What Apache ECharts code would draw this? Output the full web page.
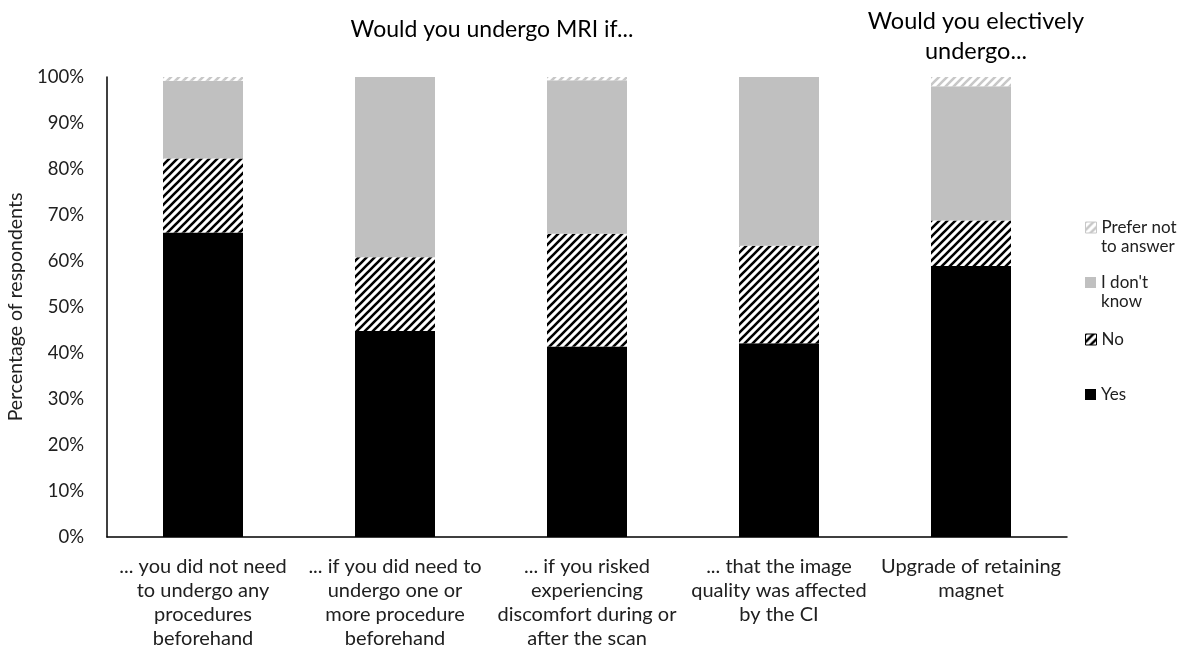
<!DOCTYPE html>
<html>
<head>
<meta charset="utf-8">
<script src="https://cdn.jsdelivr.net/npm/echarts@6/dist/echarts.min.js"></script>
<style>
  html, body { margin: 0; padding: 0; background: #fff; }
  #chart { width: 1178px; height: 662px; }
</style>
</head>
<body>
<div id="chart"></div>
<script>
// values (percent of respondents)
const categories = [
  '... you did not need to undergo any procedures beforehand',
  '... if you did need to undergo one or more procedure beforehand',
  '... if you risked experiencing discomfort during or after the scan',
  '... that the image quality was affected by the CI',
  'Upgrade of retaining magnet'
];
const categoryLabels = [
  '... you did not need\nto undergo any\nprocedures\nbeforehand',
  '... if you did need to\nundergo one or\nmore procedure\nbeforehand',
  '... if you risked\nexperiencing\ndiscomfort during or\nafter the scan',
  '... that the image\nquality was affected\nby the CI',
  'Upgrade of retaining\nmagnet'
];
const yesValues = [66.2, 44.8, 41.4, 42.1, 58.9];
const noValues = [16.1, 16.0, 24.5, 21.2, 9.9];
const dontKnowValues = [16.9, 39.2, 33.4, 36.7, 29.2];
const preferNotValues = [0.8, 0, 0.7, 0, 2.0];
const yTicks = [0, 10, 20, 30, 40, 50, 60, 70, 80, 90, 100];

const font = 'Lato, "Open Sans", sans-serif';

// diagonal stripe fills
function stripes(bg, fg, size, lw) {
  const c = document.createElement('canvas');
  c.width = size; c.height = size;
  const ctx = c.getContext('2d');
  ctx.fillStyle = bg;
  ctx.fillRect(0, 0, size, size);
  ctx.strokeStyle = fg;
  ctx.lineWidth = lw;
  ctx.beginPath();
  ctx.moveTo(-1, size + 1); ctx.lineTo(size + 1, -1);
  ctx.moveTo(-1, 1); ctx.lineTo(1, -1);
  ctx.moveTo(size - 1, size + 1); ctx.lineTo(size + 1, size - 1);
  ctx.stroke();
  return { image: c, repeat: 'repeat' };
}
const noFill = stripes('#ffffff', '#000000', 8, 2.6);
const preferFill = stripes('#ffffff', '#c8c8c8', 8, 2.6);

let chart = echarts.init(document.getElementById('chart'));

function legendAt(name, top, border) {
  return {
    data: [{ name: name, itemStyle: border ? { borderColor: border, borderWidth: 1 } : {} }],
    orient: 'vertical',
    left: 1080,
    top: top,
    icon: 'rect',
    itemWidth: 11,
    itemHeight: 11,
    itemGap: 0,
    selectedMode: false,
    textStyle: { fontFamily: font, fontSize: 17, color: '#202020' },
    formatter: function (n) {
      if (n === 'Prefer not to answer') return 'Prefer not';
      if (n === "I don't know") return "I don't";
      return n;
    }
  };
}

chart.setOption({
  animation: false,
  title: [
    {
      text: 'Would you undergo MRI if...',
      left: 487, top: 13, textAlign: 'center',
      textStyle: { fontFamily: font, fontSize: 23, fontWeight: 'normal', color: '#000' }
    },
    {
      text: 'Would you electively\nundergo...',
      left: 971, top: 1, textAlign: 'center',
      textStyle: { fontFamily: font, fontSize: 23.5, fontWeight: 'normal', color: '#000', lineHeight: 30 }
    }
  ],
  legend: [
    legendAt('Prefer not to answer', 214, '#c8c8c8'),
    legendAt("I don't know", 269),
    legendAt('No', 326, '#000'),
    legendAt('Yes', 381)
  ],
  graphic: [
    { type: 'text', left: 1101, top: 238, style: { text: 'to answer', fontFamily: font, fontSize: 17, fill: '#202020' } },
    { type: 'text', left: 1101, top: 293, style: { text: 'know', fontFamily: font, fontSize: 17, fill: '#202020' } }
  ],
  grid: { left: 107, right: 111, top: 77, bottom: 125, outerBoundsMode: 'none' },
  xAxis: {
    type: 'category',
    data: categories,
    axisLine: { lineStyle: { color: '#000', width: 1.5 } },
    axisTick: { show: false },
    axisLabel: {
      interval: 0,
      margin: 18,
      fontFamily: font, fontSize: 20, color: '#202020', lineHeight: 24,
      formatter: function (v, i) { return categoryLabels[i]; }
    }
  },
  yAxis: {
    type: 'value',
    min: yTicks[0], max: yTicks[yTicks.length - 1], interval: 10,
    name: 'Percentage of respondents',
    nameLocation: 'middle',
    nameGap: 80,
    nameTextStyle: { fontFamily: font, fontSize: 19.5, color: '#202020' },
    splitLine: { show: false },
    axisLine: { show: true, lineStyle: { color: '#000', width: 1.5 } },
    axisTick: { show: false },
    axisLabel: { margin: 23, fontFamily: font, fontSize: 18.5, color: '#202020', formatter: '{value}%' }
  },
  series: [
    { name: 'Yes', type: 'bar', stack: 'a', barWidth: 80, data: yesValues, itemStyle: { color: '#000000' } },
    { name: 'No', type: 'bar', stack: 'a', data: noValues, itemStyle: { color: noFill } },
    { name: "I don't know", type: 'bar', stack: 'a', data: dontKnowValues, itemStyle: { color: '#c0c0c0' } },
    { name: 'Prefer not to answer', type: 'bar', stack: 'a', data: preferNotValues, itemStyle: { color: preferFill } }
  ]
});
</script>
</body>
</html>
